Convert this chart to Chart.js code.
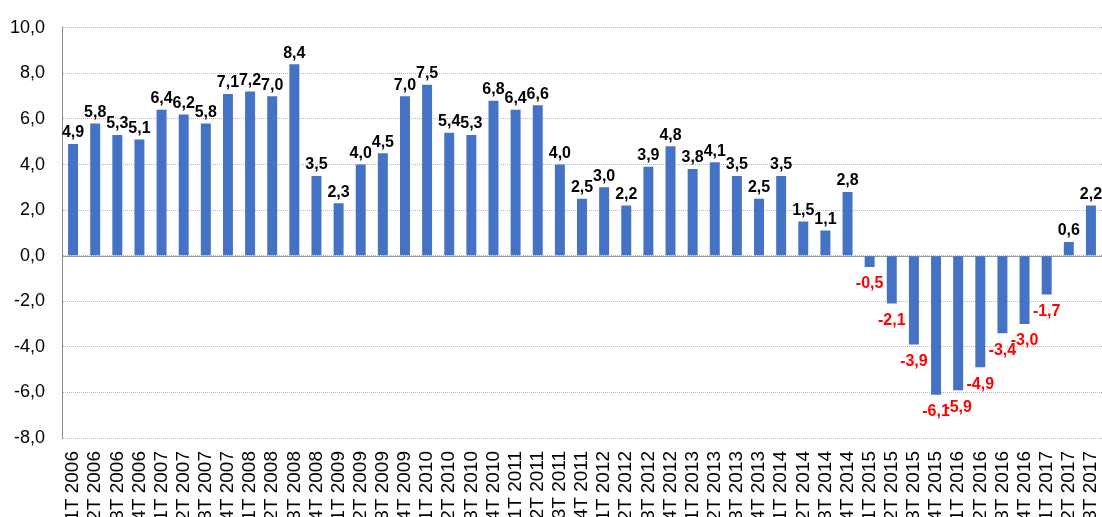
<!DOCTYPE html>
<html>
<head>
<meta charset="utf-8">
<script src="https://cdn.jsdelivr.net/npm/chart.js@4/dist/chart.umd.min.js"></script>
<style>
  html, body { margin: 0; padding: 0; background: #fff; overflow: hidden; }
  #clip { width: 1102px; height: 517px; overflow: hidden; }
  #wrap { width: 1102px; height: 532px; }
</style>
</head>
<body>
<div id="clip"><div id="wrap"><canvas id="gdp-chart"></canvas></div></div>
<script>
// quarters 1T 2006 .. 3T 2017
var quarters = [
  "1T 2006", "2T 2006", "3T 2006", "4T 2006",
  "1T 2007", "2T 2007", "3T 2007", "4T 2007",
  "1T 2008", "2T 2008", "3T 2008", "4T 2008",
  "1T 2009", "2T 2009", "3T 2009", "4T 2009",
  "1T 2010", "2T 2010", "3T 2010", "4T 2010",
  "1T 2011", "2T 2011", "3T 2011", "4T 2011",
  "1T 2012", "2T 2012", "3T 2012", "4T 2012",
  "1T 2013", "2T 2013", "3T 2013", "4T 2013",
  "1T 2014", "2T 2014", "3T 2014", "4T 2014",
  "1T 2015", "2T 2015", "3T 2015", "4T 2015",
  "1T 2016", "2T 2016", "3T 2016", "4T 2016",
  "1T 2017", "2T 2017", "3T 2017"
];
var growth = [
  4.9, 5.8, 5.3, 5.1,
  6.4, 6.2, 5.8, 7.1,
  7.2, 7.0, 8.4, 3.5,
  2.3, 4.0, 4.5, 7.0,
  7.5, 5.4, 5.3, 6.8,
  6.4, 6.6, 4.0, 2.5,
  3.0, 2.2, 3.9, 4.8,
  3.8, 4.1, 3.5, 2.5,
  3.5, 1.5, 1.1, 2.8,
  -0.5, -2.1, -3.9, -6.1,
  -5.9, -4.9, -3.4, -3.0,
  -1.7, 0.6, 2.2
];
var yMin = -8, yMax = 10, yStep = 2;

var FONT = "'Liberation Sans', Arial, sans-serif";

function fmt(v) { return v.toFixed(1).replace('.', ','); }

/* draws the value above (or below for negatives) each bar, plus the solid zero line */
var valueLabels = {
  id: 'valueLabels',
  beforeDatasetsDraw: function(chart) {
    var ctx = chart.ctx, area = chart.chartArea;
    var y0 = chart.scales.y.getPixelForValue(0);
    ctx.save();
    ctx.strokeStyle = '#9a9a9a';
    ctx.lineWidth = 1;
    ctx.beginPath();
    ctx.moveTo(area.left, Math.round(y0) + 0.5);
    ctx.lineTo(area.right, Math.round(y0) + 0.5);
    ctx.stroke();
    ctx.restore();
  },
  afterDatasetsDraw: function(chart) {
    var ctx = chart.ctx;
    var meta = chart.getDatasetMeta(0);
    ctx.save();
    ctx.font = "bold 16px " + FONT;
    ctx.textAlign = 'center';
    ctx.textBaseline = 'middle';
    meta.data.forEach(function(bar, i) {
      var v = growth[i];
      if (v >= 0) {
        ctx.fillStyle = '#000';
        ctx.fillText(fmt(v), bar.x, bar.y - 11);
      } else {
        ctx.fillStyle = '#ff0000';
        ctx.fillText(fmt(v), bar.x, bar.y + 17);
      }
    });
    ctx.restore();
  }
};

var ctx = document.getElementById('gdp-chart');
var gdpChart = new Chart(ctx, {
  type: 'bar',
  data: {
    labels: quarters,
    datasets: [{
      label: "PIB",
      data: growth,
      backgroundColor: '#4472C4',
      borderWidth: 0,
      barPercentage: 0.45,
      categoryPercentage: 1.0
    }]
  },
  options: {
    responsive: true,
    maintainAspectRatio: false,
    animation: false,
    layout: { padding: { top: 21, right: 0, left: 0, bottom: 0 } },
    plugins: {
      legend: { display: false },
      tooltip: { enabled: false }
    },
    scales: {
      x: {
        grid: { display: false, drawTicks: false },
        border: { display: false },
        ticks: {
          autoSkip: false,
          minRotation: 90,
          maxRotation: 90,
          padding: 13,
          color: '#000',
          font: { family: FONT, size: 19 }
        },
        afterFit: function(scale) {
          scale.height = 94;
          scale.paddingLeft = 0;
          scale.paddingRight = 0;
        }
      },
      y: {
        min: yMin,
        max: yMax,
        grid: {
          color: '#b8b8b8',
          lineWidth: 1,
          drawTicks: false
        },
        border: { display: true, color: '#8c8c8c', dash: [1, 1] },
        ticks: {
          stepSize: yStep,
          padding: 17,
          color: '#000',
          font: { family: FONT, size: 18 },
          callback: function(value) { return fmt(value); }
        },
        afterFit: function(scale) { scale.width = 62; }
      }
    }
  },
  plugins: [valueLabels]
});
</script>
</body>
</html>
